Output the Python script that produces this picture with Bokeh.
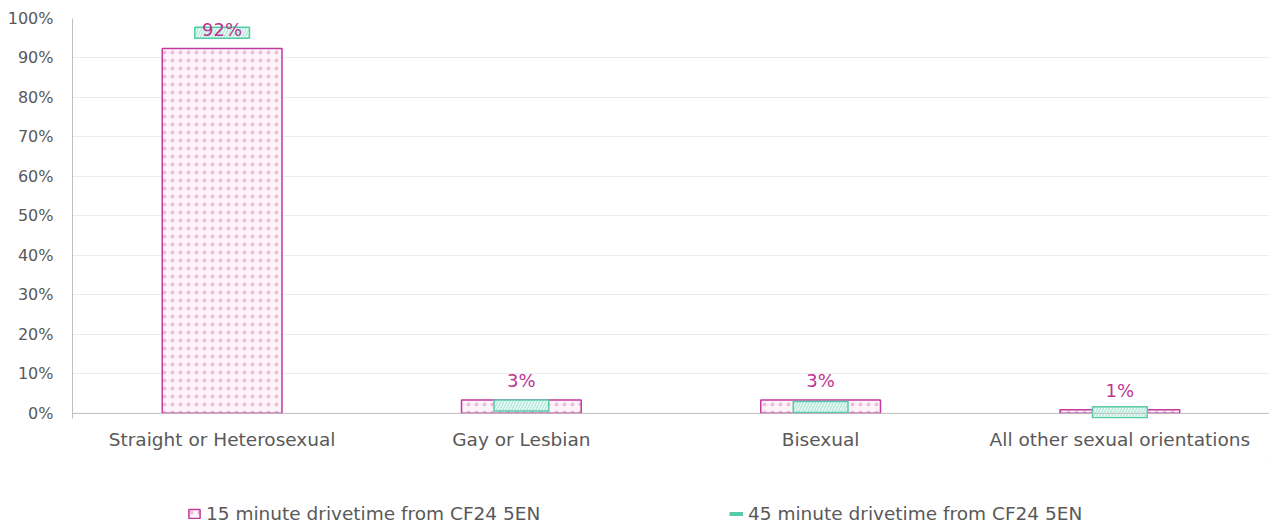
from bokeh.plotting import figure
from bokeh.layouts import column
from bokeh.models import (FactorRange, Range1d, FixedTicker, Span, Legend,
                          LegendItem, ColumnDataSource)
from bokeh.core.properties import value
from bokeh.embed import file_html
from bokeh.resources import INLINE

# ---- data ----
categories = ["Straight or Heterosexual", "Gay or Lesbian", "Bisexual",
              "All other sexual orientations"]
drive15 = [92.4, 3.4, 3.4, 0.9]
drive45 = [96.4, 2.0, 1.6, 0.3]
series_names = ["15 minute drivetime from CF24 5EN",
                "45 minute drivetime from CF24 5EN"]
y_ticks = [0, 10, 20, 30, 40, 50, 60, 70, 80, 90, 100]

labels = [f"{round(v)}%" for v in drive15]

MAGENTA = "#C2399B"
LABEL_MAG = "#BB3592"
DOTS = "#F0BCDA"
TEAL = "#55CBAA"
GRAY_TXT = "#595959"
FONT = "DejaVu Sans"

bar_style = dict(fill_color="#FDF4F9", line_color=MAGENTA, line_width=1.5,
                 hatch_pattern="dot", hatch_color=DOTS, hatch_scale=8,
                 hatch_weight=6)
box_style = dict(fill_color="#F0FBF7", line_color=TEAL, line_width=1.5,
                 hatch_pattern="right_diagonal_line", hatch_color="#B5E9DA",
                 hatch_scale=6, hatch_weight=1.5)

src = ColumnDataSource(dict(cat=categories, v15=drive15, v45=drive45, lbl=labels))

p = figure(width=1269, height=460, output_backend="svg", toolbar_location=None,
           x_range=FactorRange(factors=categories),
           y_range=Range1d(-1.3, 100),
           min_border_left=72, min_border_right=0, min_border_top=18,
           min_border_bottom=42)
p.outline_line_color = None
p.background_fill_color = "white"

bars = p.vbar(x="cat", top="v15", bottom=0, width=0.4, source=src, **bar_style)

boxes = p.rect(x="cat", y="v45", width=0.183, height=11, height_units="screen",
               source=src, **box_style)

p.text(x="cat", y="v15", text="lbl", source=src, text_align="center",
       text_baseline="middle", y_offset=-19, text_font=value(FONT),
       text_font_size=value("18px"), text_color=LABEL_MAG)

p.add_layout(Span(location=0, dimension="width", line_color="#BFBFBF",
                  line_width=1))

# axes
p.yaxis.ticker = FixedTicker(ticks=y_ticks)
p.yaxis.major_label_overrides = {t: f"{t}%" for t in y_ticks}
p.yaxis.major_tick_in = 0
p.yaxis.major_tick_out = 0
p.yaxis.minor_tick_in = 0
p.yaxis.minor_tick_out = 0
p.yaxis.axis_line_color = "#BFBFBF"
p.yaxis.major_label_standoff = 19
p.yaxis.major_label_text_font = FONT
p.yaxis.major_label_text_font_size = "16px"
p.yaxis.major_label_text_color = GRAY_TXT

p.xaxis.axis_line_color = None
p.xaxis.major_tick_in = 0
p.xaxis.major_tick_out = 0
p.xaxis.major_label_standoff = 10
p.xaxis.major_label_text_font = FONT
p.xaxis.major_label_text_font_size = "18.5px"
p.xaxis.major_label_text_color = GRAY_TXT

p.xgrid.grid_line_color = None
p.ygrid.grid_line_color = "#EBEBEB"
p.ygrid.grid_line_width = 1

# ---- legend strip ----
p2 = figure(width=1269, height=66, output_backend="svg", toolbar_location=None,
            x_range=Range1d(0, 1), y_range=Range1d(0, 1),
            x_axis_type=None, y_axis_type=None, min_border=0)
p2.outline_line_color = None
p2.grid.grid_line_color = None
# legend proxies placed outside the visible range
leg_bar = p2.vbar(x=[5], top=[5], bottom=[4], width=0.1, **bar_style)
leg_dash = p2.line(x=[5, 6], y=[5, 5], line_color=TEAL, line_width=4)


def make_legend(item, loc):
    return Legend(items=[item], location=loc, padding=0, margin=0,
                  border_line_color=None, background_fill_alpha=0,
                  glyph_width=14, glyph_height=11, label_standoff=5,
                  label_text_font=FONT, label_text_font_size="18.5px",
                  label_text_color=GRAY_TXT)


p2.add_layout(make_legend(LegendItem(label=series_names[0], renderers=[leg_bar]),
                          (115, 2)))
p2.add_layout(make_legend(LegendItem(label=series_names[1], renderers=[leg_dash]),
                          (657, 2)))

layout = column(p, p2, spacing=0)
open("out.html", "w").write(file_html(layout, INLINE))
